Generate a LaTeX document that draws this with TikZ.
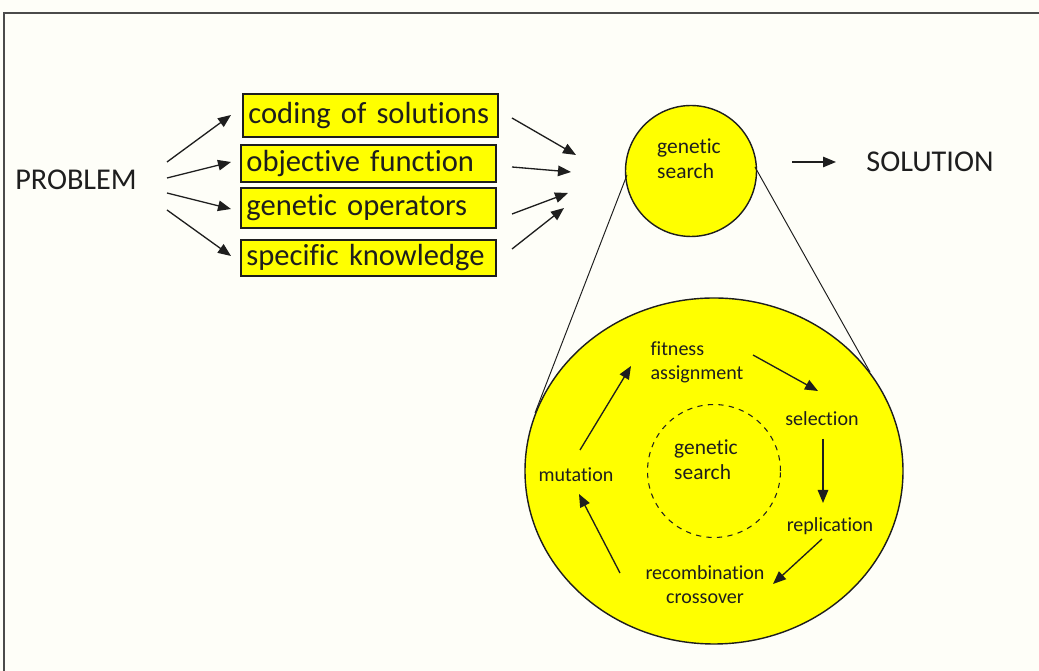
\documentclass[tikz,border=0pt]{standalone}
\usepackage{fontspec}
\setmainfont{Carlito}[Ligatures={NoCommon}]
\usetikzlibrary{arrows.meta}
\definecolor{bgc}{RGB}{254,254,248}
\definecolor{ink}{RGB}{30,30,30}
\definecolor{yel}{RGB}{255,255,0}
\tikzset{
  big/.style={font=\fontsize{17.2}{20}\selectfont, text=ink, inner sep=0pt},
  boxtxt/.style={font=\fontsize{17.4}{20}\selectfont, text=ink},
  stepbox/.style={boxtxt, draw=ink, line width=0.9pt, fill=yel, anchor=north west, align=left, inner xsep=3.2pt, inner ysep=0pt, text width=4.88cm},
  small/.style={font=\fontsize{12.2}{14.4}\selectfont, text=ink, inner sep=0pt, align=left},
  tiny/.style={font=\fontsize{11.4}{13.6}\selectfont, text=ink, inner sep=0pt, align=center},
  arr/.style={draw=ink, line width=0.75pt, -{Triangle[length=2.6mm,width=2.1mm]}},
  thin/.style={draw=ink, line width=0.55pt},
}
\begin{document}
\begin{tikzpicture}[x=0.02cm, y=-0.02cm]
\fill[bgc] (0,0) rectangle (1039,671);
\useasboundingbox (0,0) rectangle (1039,671);
% frame
\draw[draw=ink!80, line width=1.2pt] (1039,13) -- (4,13) -- (4,671);
% left texts
\node[big] (problem) at (76,180) {PROBLEM};
\node[stepbox, minimum height=0.86cm] (b1) at (242,93) {coding of solutions};
\node[stepbox, minimum height=0.74cm] (b2) at (240,144) {objective function};
\node[stepbox, minimum height=0.80cm] (b3) at (240,187) {genetic operators};
\node[stepbox, minimum height=0.72cm] (b4) at (240,239) {specific knowledge};
% arrow endpoints
\coordinate (p1) at (167,162); \coordinate (q1) at (231,115);
\coordinate (p2) at (167,178); \coordinate (q2) at (231,162);
\coordinate (p3) at (167,193); \coordinate (q3) at (231,209);
\coordinate (p4) at (167,210); \coordinate (q4) at (231,256);
\draw[arr] (p1) -- (q1);
\draw[arr] (p2) -- (q2);
\draw[arr] (p3) -- (q3);
\draw[arr] (p4) -- (q4);
% small circle
\node[draw=ink, line width=0.8pt, fill=yel, circle, minimum size=2.62cm, inner sep=0pt] (gs) at (691,171) {};
\node[small] (gst) at (689,159) {genetic\\search};
\coordinate (r1) at (512,118); \coordinate (s1) at (576,155);
\coordinate (r2) at (512,167); \coordinate (s2) at (571,172);
\coordinate (r3) at (512,214); \coordinate (s3) at (568,193);
\coordinate (r4) at (512,249); \coordinate (s4) at (564,208);
\draw[arr] (r1) -- (s1);
\draw[arr] (r2) -- (s2);
\draw[arr] (r3) -- (s3);
\draw[arr] (r4) -- (s4);
% solution
\node[big] (sol) at (930,162) {SOLUTION};
\coordinate (t1) at (792,162); \coordinate (t2) at (836,162);
\draw[arr] (t1) -- (t2);
% big ellipse
\coordinate (ec) at (714,471);
\draw[draw=ink, line width=0.8pt, fill=yel] (ec) ellipse [x radius=189, y radius=173];
% tangent lines
\coordinate (l1) at (627,175); \coordinate (l2) at (535,413);
\coordinate (m1) at (755,167); \coordinate (m2) at (870,372);
\draw[thin] (l1) -- (l2);
\draw[thin] (m1) -- (m2);
% inner dashed circle
\node[draw=ink, line width=0.6pt, dashed, circle, minimum size=2.66cm, inner sep=0pt] (inner) at (ec) {};
\node[small] (igs) at (706,460) {genetic\\search};
% cycle labels
\node[tiny, align=left] (fit) at (697,362) {fitness\\assignment};
\node[tiny] (sel) at (822,419) {selection};
\node[tiny] (rep) at (830,526) {replication};
\node[tiny] (rec) at (705,585) {recombination\\crossover};
\node[tiny] (mut) at (576,475) {mutation};
% cycle arrows
\coordinate (c1) at (753,355); \coordinate (d1) at (818,391);
\coordinate (c2) at (823,439); \coordinate (d2) at (823,503);
\coordinate (c3) at (822,539); \coordinate (d3) at (773,584);
\coordinate (c4) at (620,573); \coordinate (d4) at (579,494);
\coordinate (c5) at (580,450); \coordinate (d5) at (631,366);
\draw[arr] (c1) -- (d1);
\draw[arr] (c2) -- (d2);
\draw[arr] (c3) -- (d3);
\draw[arr] (c4) -- (d4);
\draw[arr] (c5) -- (d5);
\end{tikzpicture}
\end{document}
